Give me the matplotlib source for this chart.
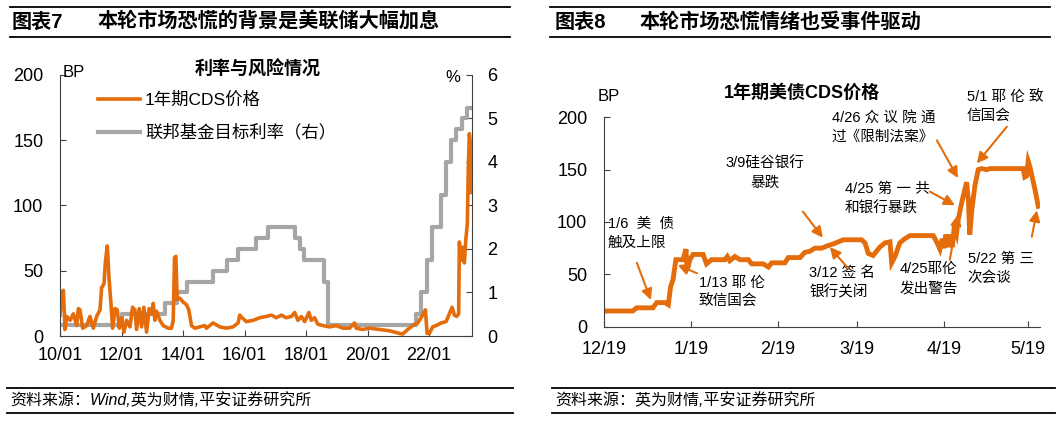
import matplotlib.pyplot as plt
import matplotlib.lines as mlines
import pandas as pd

plt.rcParams['font.family'] = ['Liberation Sans', 'Noto Sans CJK SC']
plt.rcParams['axes.unicode_minus'] = False

ORANGE = '#E46C0A'
GRAY = '#A6A6A6'
AXC = '#404040'

# ---- 图表7 数据 (年份为小数) ----
cds_year = [2010.000, 2010.054, 2010.108, 2010.162, 2010.217, 2010.325, 2010.433, 2010.541,
            2010.595, 2010.649, 2010.736, 2010.866, 2010.974, 2011.082, 2011.190, 2011.299,
            2011.353, 2011.429, 2011.472, 2011.537, 2011.591, 2011.656, 2011.710, 2011.786,
            2011.861, 2011.926, 2012.002, 2012.078, 2012.165, 2012.273, 2012.359, 2012.435,
            2012.489, 2012.576, 2012.652, 2012.727, 2012.814, 2012.900, 2012.976, 2013.030,
            2013.084, 2013.139, 2013.247, 2013.355, 2013.517, 2013.626, 2013.680, 2013.723,
            2013.766, 2013.810, 2013.896, 2014.004, 2014.113, 2014.188, 2014.275, 2014.383,
            2014.545, 2014.708, 2014.762, 2014.978, 2015.195, 2015.411, 2015.628, 2015.790,
            2015.844, 2015.920, 2016.061, 2016.277, 2016.494, 2016.710, 2016.873, 2017.036,
            2017.198, 2017.360, 2017.523, 2017.630, 2017.737, 2017.847, 2017.955, 2018.094,
            2018.172, 2018.279, 2018.386, 2018.549, 2018.766, 2018.984, 2019.198, 2019.416,
            2019.578, 2019.633, 2019.847, 2020.065, 2020.390, 2020.714, 2021.039, 2021.146,
            2021.308, 2021.471, 2021.633, 2021.795, 2021.883, 2021.938, 2022.013, 2022.120,
            2022.231, 2022.393, 2022.555, 2022.662, 2022.750, 2022.825, 2022.899, 2022.964,
            2022.987, 2023.042, 2023.094, 2023.149, 2023.198, 2023.247, 2023.279, 2023.312,
            2023.344, 2023.367]
cds_bp = [16, 33, 35, 5, 15, 12, 17, 8,
          21, 20, 6, 8, 15, 6, 15, 20,
          37, 40, 56, 69, 45, 25, 6, 21,
          20, 6, 14, 3, 12, 7, 22, 20,
          5, 21, 7, 22, 3, 21, 17, 25,
          12, 19, 12, 8, 6, 6, 12, 60,
          61, 28, 29, 26, 24, 20, 8, 6,
          7, 8, 6, 10, 7, 6, 7, 10,
          16, 14, 11, 12, 14, 15, 16, 14,
          16, 14, 15, 18, 12, 15, 11, 18,
          12, 14, 9, 8, 7, 8, 6, 6,
          10, 6, 5, 6, 5, 4, 2, 1.5,
          5, 8, 10, 16, 20, 2, 2, 7,
          8, 10, 11, 17, 22, 16, 15, 17,
          72, 58, 68, 56, 74, 86, 130, 155,
          148, 110]

fed_year = [2010.0, 2012.01, 2013.41, 2013.80, 2014.12, 2014.97, 2015.42, 2015.78, 2016.36,
            2016.75, 2017.63, 2017.79, 2017.95, 2018.60, 2018.70, 2021.59, 2021.75, 2021.92,
            2022.11, 2022.40, 2022.56, 2022.73, 2022.89, 2023.08, 2023.25, 2023.38]
fed_rate = [0.25, 0.5, 0.75, 1.0, 1.25, 1.5, 1.75, 2.0, 2.25,
            2.5, 2.25, 2.0, 1.75, 1.25, 0.25, 0.5, 1.0, 1.75,
            2.5, 3.25, 4.0, 4.5, 4.75, 5.0, 5.25, 5.25]

left_ticks = [2010, 2012, 2014, 2016, 2018, 2020, 2022]
left_labels = ['10/01', '12/01', '14/01', '16/01', '18/01', '20/01', '22/01']

# ---- 图表8 数据 ----
us_date = ['2022-12-19 00:00', '2022-12-29 07:00', '2022-12-30 14:00', '2023-01-05 10:00',
           '2023-01-06 19:00', '2023-01-09 17:00', '2023-01-10 22:00', '2023-01-11 17:00',
           '2023-01-12 14:00', '2023-01-13 14:00', '2023-01-16 02:00', '2023-01-17 05:00',
           '2023-01-17 14:00', '2023-01-18 14:00', '2023-01-19 17:00', '2023-01-23 07:00',
           '2023-01-24 12:00', '2023-01-26 07:00', '2023-01-31 02:00', '2023-01-31 22:00',
           '2023-02-01 19:00', '2023-02-03 14:00', '2023-02-05 10:00', '2023-02-08 10:00',
           '2023-02-09 14:00', '2023-02-13 17:00', '2023-02-15 12:00', '2023-02-16 17:00',
           '2023-02-21 10:00', '2023-02-22 14:00', '2023-02-26 19:00', '2023-02-28 12:00',
           '2023-03-02 07:00', '2023-03-04 02:00', '2023-03-06 12:00', '2023-03-08 07:00',
           '2023-03-10 14:00', '2023-03-14 05:00', '2023-03-20 17:00', '2023-03-21 22:00',
           '2023-03-23 02:00', '2023-03-24 19:00', '2023-03-27 05:00', '2023-03-29 00:00',
           '2023-03-30 19:00', '2023-03-31 10:00', '2023-04-01 14:00', '2023-04-03 07:00',
           '2023-04-05 02:00', '2023-04-06 22:00', '2023-04-15 05:00', '2023-04-16 10:00',
           '2023-04-17 14:00', '2023-04-18 10:00', '2023-04-19 00:00', '2023-04-19 17:00',
           '2023-04-20 10:00', '2023-04-21 02:00', '2023-04-22 00:00', '2023-04-22 17:00',
           '2023-04-23 12:00', '2023-04-24 02:00', '2023-04-25 07:00', '2023-04-26 02:00',
           '2023-04-27 02:00', '2023-04-27 17:00', '2023-04-28 05:00', '2023-04-28 22:00',
           '2023-04-30 00:00', '2023-05-01 05:00', '2023-05-02 10:00', '2023-05-04 05:00',
           '2023-05-05 10:00', '2023-05-17 05:00', '2023-05-17 19:00', '2023-05-18 10:00',
           '2023-05-19 00:00', '2023-05-19 14:00', '2023-05-21 10:00', '2023-05-22 14:00']
us_cds = [15, 15, 18, 18, 23, 23, 21, 38,
          45, 64, 64, 74, 54, 64, 69, 69,
          60, 64, 64, 67, 63, 67, 64, 64,
          60, 60, 57, 61, 61, 66, 66, 71,
          72, 75, 75, 77, 79, 83, 83, 80,
          70, 68, 76, 80, 81, 61, 67, 80,
          84, 87, 87, 81, 74, 84, 75, 88,
          76, 88, 76, 96, 89, 102, 118, 127,
          138, 121, 88, 111, 134, 150, 151, 150,
          151, 151, 143, 144, 158, 153, 131, 115]

right_ticks = ['2022-12-19', '2023-01-19', '2023-02-19', '2023-03-19', '2023-04-19', '2023-05-19']
right_labels = ['12/19', '1/19', '2/19', '3/19', '4/19', '5/19']

# 事件标注：文字, 文字位置(距12/19天数, BP), 箭尾, 箭头, 对齐
notes = ['1/6  美  债\n触及上限', '1/13 耶 伦\n致信国会', '3/9硅谷银行\n暴跌', '3/12 签 名\n银行关闭',
         '4/26 众 议 院 通\n过《限制法案》', '5/1 耶 伦 致\n信国会', '4/25 第 一 共\n和银行暴跌',
         '4/25耶伦\n发出警告', '5/22 第 三\n次会谈']
note_xy = [(1.4, 89.5), (33.8, 32.7), (57.3, 147), (73, 41.7), (81.1, 190.7),
           (129.2, 210.8), (85.8, 122), (105.3, 45.6), (129.5, 56)]
note_ha = ['left', 'left', 'center', 'left', 'left', 'left', 'left', 'left', 'left']
arrow_tail = [(11.7, 61), (33.1, 51), (70.8, 110), (86.8, 56), (118.5, 178),
              (143.4, 191), (116, 129), (123.1, 64), (152.3, 86)]
arrow_tip = [(16.7, 25.5), (26.3, 59), (77.9, 85), (80.4, 76), (126, 142),
             (132.7, 156), (124.9, 116), (126, 107), (154.1, 111)]

fig = plt.figure(figsize=(10.57, 4.21), dpi=100)

# ================= 左图 =================
ax = fig.add_axes([0.0568, 0.2019, 0.3898, 0.6200])
ax2 = ax.twinx()
ax.set_zorder(ax2.get_zorder() + 1)
ax.patch.set_visible(False)

l2, = ax2.plot(fed_year, fed_rate, color=GRAY, lw=3, drawstyle='steps-post',
               label='联邦基金目标利率（右）')
l1, = ax.plot(cds_year, cds_bp, color=ORANGE, lw=2.6, label='1年期CDS价格')

ax.set_xlim(2010, 2023.4)
ax.set_ylim(0, 200)
ax2.set_ylim(0, 6)
ax.set_yticks([0, 50, 100, 150, 200])
ax2.set_yticks(range(7))
ax.set_xticks(left_ticks)
ax.set_xticklabels(left_labels)

for a in (ax, ax2):
    a.spines['top'].set_visible(False)
    for s in a.spines.values():
        s.set_color(AXC)
ax.spines['right'].set_visible(False)
ax2.spines['left'].set_visible(False)
ax2.spines['bottom'].set_visible(False)

ax.tick_params(axis='y', direction='in', length=4, labelsize=13, pad=12, color=AXC)
ax.tick_params(axis='x', direction='in', length=4, labelsize=13, pad=8, color=AXC)
ax2.tick_params(axis='y', direction='in', length=4, labelsize=13, pad=11, color=AXC)

ax.text(0.007, 1.011, 'BP', transform=ax.transAxes, fontsize=12, va='center', ha='left')
ax.text(0.954, 0.989, '%', transform=ax.transAxes, fontsize=12, va='center', ha='center')
ax.text(0.48, 1.019, '利率与风险情况', transform=ax.transAxes, fontsize=13,
        fontweight='bold', va='center', ha='center')
ax.legend(handles=[l1, l2], loc='upper left', bbox_to_anchor=(0.092, 0.937),
          frameon=False, fontsize=12.5, handlelength=2.4, handletextpad=0.3,
          labelspacing=0.95, borderpad=0, borderaxespad=0)

# ================= 右图 =================
start = pd.Timestamp('2022-12-19')
axr = fig.add_axes([0.5714, 0.2240, 0.4125, 0.4974])
axr.plot(pd.to_datetime(us_date), us_cds, color=ORANGE, lw=3.5, solid_joinstyle='miter')
axr.set_xlim(start, start + pd.Timedelta(days=155.2))
axr.set_ylim(0, 200)
axr.set_yticks([0, 50, 100, 150, 200])
axr.set_xticks(pd.to_datetime(right_ticks))
axr.set_xticklabels(right_labels)
axr.spines['top'].set_visible(False)
axr.spines['right'].set_visible(False)
for s in axr.spines.values():
    s.set_color(AXC)
axr.tick_params(axis='y', direction='in', length=4, labelsize=13, pad=12, color=AXC)
axr.tick_params(axis='x', direction='in', length=4, labelsize=13, pad=10, color=AXC)

axr.text(0.011, 1.097, 'BP', transform=axr.transAxes, fontsize=12, va='center', ha='center')
axr.text(0.454, 1.116, '1年期美债CDS价格', transform=axr.transAxes, fontsize=13,
         fontweight='bold', va='center', ha='center')


def day(d):
    return start + pd.Timedelta(days=d)


for txt, (tx, ty), ha, (ax0, ay0), (ax1, ay1) in zip(notes, note_xy, note_ha, arrow_tail, arrow_tip):
    axr.text(day(tx), ty, txt, fontsize=10.5, ha=ha, va='center', multialignment=ha,
             linespacing=1.45)
    axr.annotate('', xy=(day(ax1), ay1), xytext=(day(ax0), ay0),
                 arrowprops=dict(arrowstyle='-|>', color=ORANGE, lw=1.5, mutation_scale=16,
                                 shrinkA=0, shrinkB=0))

# ================= 标题与来源 =================
for x0, x1 in [(10, 510), (550, 1050)]:
    for y in (7, 37):
        fig.add_artist(mlines.Line2D([x0 / 1057, x1 / 1057], [1 - y / 421, 1 - y / 421],
                                     transform=fig.transFigure, color='black', lw=1.3))
for x0, x1 in [(7, 513), (552, 1055)]:
    for y in (388, 413):
        fig.add_artist(mlines.Line2D([x0 / 1057, x1 / 1057], [1 - y / 421, 1 - y / 421],
                                     transform=fig.transFigure, color='black', lw=1.3))

fig.text(12 / 1057, 1 - 22 / 421, '图表7', fontsize=14.5, fontweight='bold', va='center')
fig.text(97 / 1057, 1 - 22 / 421, '本轮市场恐慌的背景是美联储大幅加息', fontsize=14.5,
         fontweight='bold', va='center')
fig.text(555 / 1057, 1 - 22 / 421, '图表8', fontsize=14.5, fontweight='bold', va='center')
fig.text(640 / 1057, 1 - 22 / 421, '本轮市场恐慌情绪也受事件驱动', fontsize=14.5,
         fontweight='bold', va='center')
fig.text(10 / 1057, 1 - 400 / 421, '资料来源：Wind,英为财情,平安证券研究所', fontsize=11.5,
         style='italic', va='center')
fig.text(555 / 1057, 1 - 400 / 421, '资料来源：英为财情,平安证券研究所', fontsize=11.5,
         style='italic', va='center')

fig.savefig('out.png', dpi=100)
